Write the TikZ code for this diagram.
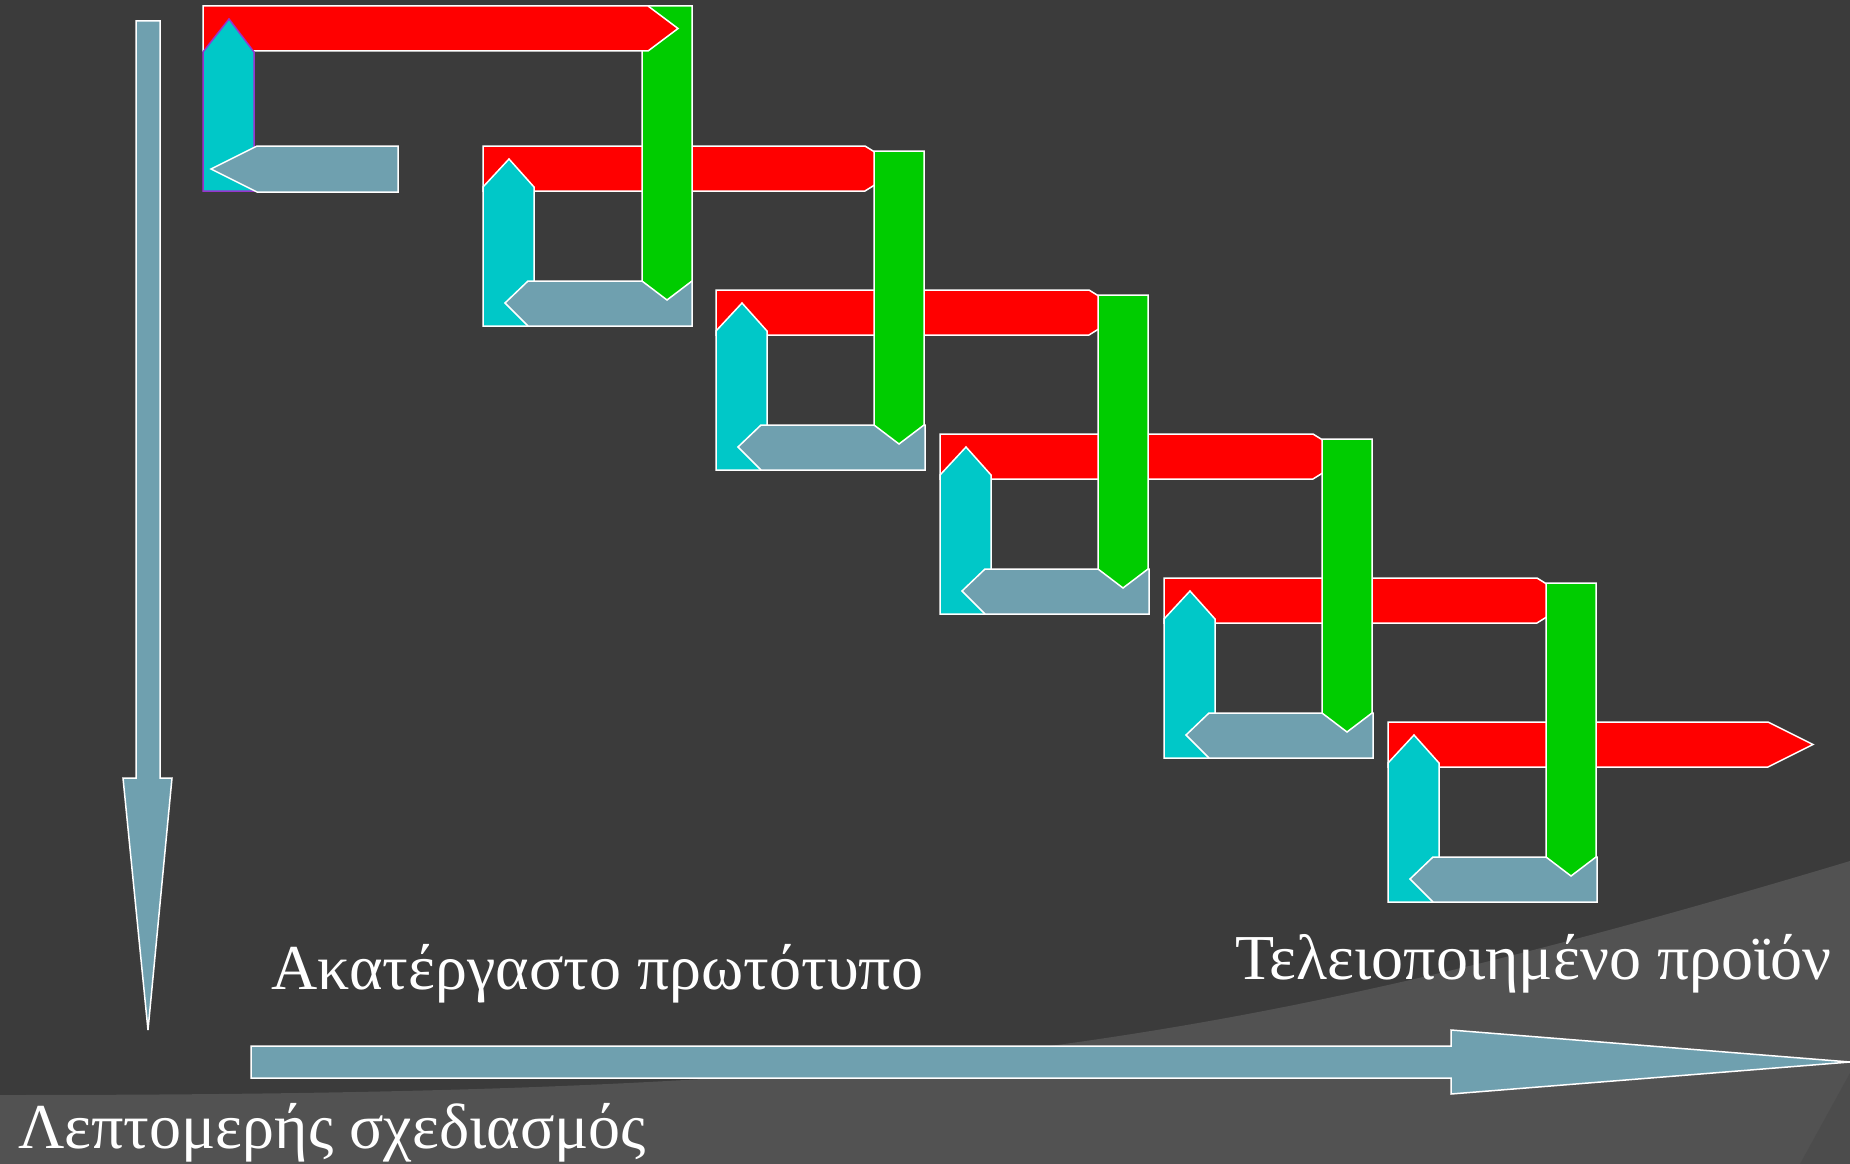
\documentclass[tikz,border=0pt]{standalone}
\usepackage{fontspec}
\setmainfont{Liberation Serif}
\definecolor{bgdark}{RGB}{59,59,59}
\definecolor{bglight}{RGB}{82,82,82}
\definecolor{bgshade}{RGB}{76,76,76}
\definecolor{stred}{RGB}{255,0,0}
\definecolor{stgreen}{RGB}{0,204,0}
\definecolor{stcyan}{RGB}{0,200,200}
\definecolor{stgray}{RGB}{111,160,175}
\definecolor{stpurple}{RGB}{153,51,204}
\usetikzlibrary{positioning}

\begin{document}
\begin{tikzpicture}[x=1pt, y=-1pt,
    piece/.style={draw=white, line width=1.5pt, line join=miter},
    caption/.style={anchor=base west, inner sep=0pt, text=white,
      font=\fontsize{64}{70}\selectfont}
  ]
    \useasboundingbox (0,0) rectangle (1850,1164);
    \fill[bgdark] (0,0) rectangle (1850,1164);
    \fill[bglight] (0,1095) .. controls (891,1095) and (1210,1053) .. (1850,861)
      -- (1850,1164) -- (0,1164) -- cycle;
    \fill[bgshade] (1850,1073) -- (1850,1164) -- (1800,1164) -- cycle;

    % stages 2..6: red, cyan, gray, then the green arrow of the stage before
    \foreach \L/\T/\G/\gtop/\rhead/\rtip in {483/146/642/6/865/901,
        716/290/874/151/1089/1125, 940/434/1098/295/1313/1349,
        1164/578/1322/439/1537/1573, 1388/722/1546/583/1768/1813} {
      \draw[piece, fill=stred] (\L,\T) -- (\rhead,\T) -- (\rtip,\T+22.5)
        -- (\rhead,\T+45) -- (\L,\T+45) -- cycle;
      \draw[piece, fill=stcyan] (\L,\T+180) -- (\L,\T+41) -- (\L+26,\T+13)
        -- (\L+51,\T+41) -- (\L+51,\T+180) -- cycle;
      \draw[piece, fill=stgray] (\L+209,\T+135) -- (\L+45,\T+135) -- (\L+22,\T+157)
        -- (\L+45,\T+180) -- (\L+209,\T+180) -- cycle;
      \draw[piece, fill=stgreen] (\G,\gtop) -- (\G+50,\gtop) -- (\G+50,\T+135)
        -- (\G+25,\T+154) -- (\G,\T+135) -- cycle;
    }

    % first stage
    \draw[piece, fill=stred] (203,6) -- (648,6) -- (678,28.5) -- (648,51)
      -- (203,51) -- cycle;
    \draw[piece, draw=stpurple, fill=stcyan] (203,191) -- (203,52) -- (229,19)
      -- (254,52) -- (254,191) -- cycle;
    \draw[piece, fill=stgray] (398,146) -- (257,146) -- (211,169) -- (257,192)
      -- (398,192) -- cycle;

    % axes
    \draw[piece, fill=stgray] (136,21) -- (160,21) -- (160,778) -- (172,778)
      -- (148,1030) -- (123,778) -- (136,778) -- cycle;
    \draw[piece, fill=stgray] (251,1046) -- (1451,1046) -- (1451,1030) -- (1850,1062)
      -- (1451,1094) -- (1451,1078) -- (251,1078) -- cycle;

    \node[caption] (proto) at (271,989) {Ακατέργαστο πρωτότυπο};
    \node[caption] (final) at (1235,979) {Τελειοποιημένο προϊόν};
    \node[caption] (detail) at (18,1148) {Λεπτομερής σχεδιασμός};
  \end{tikzpicture}
\end{document}
